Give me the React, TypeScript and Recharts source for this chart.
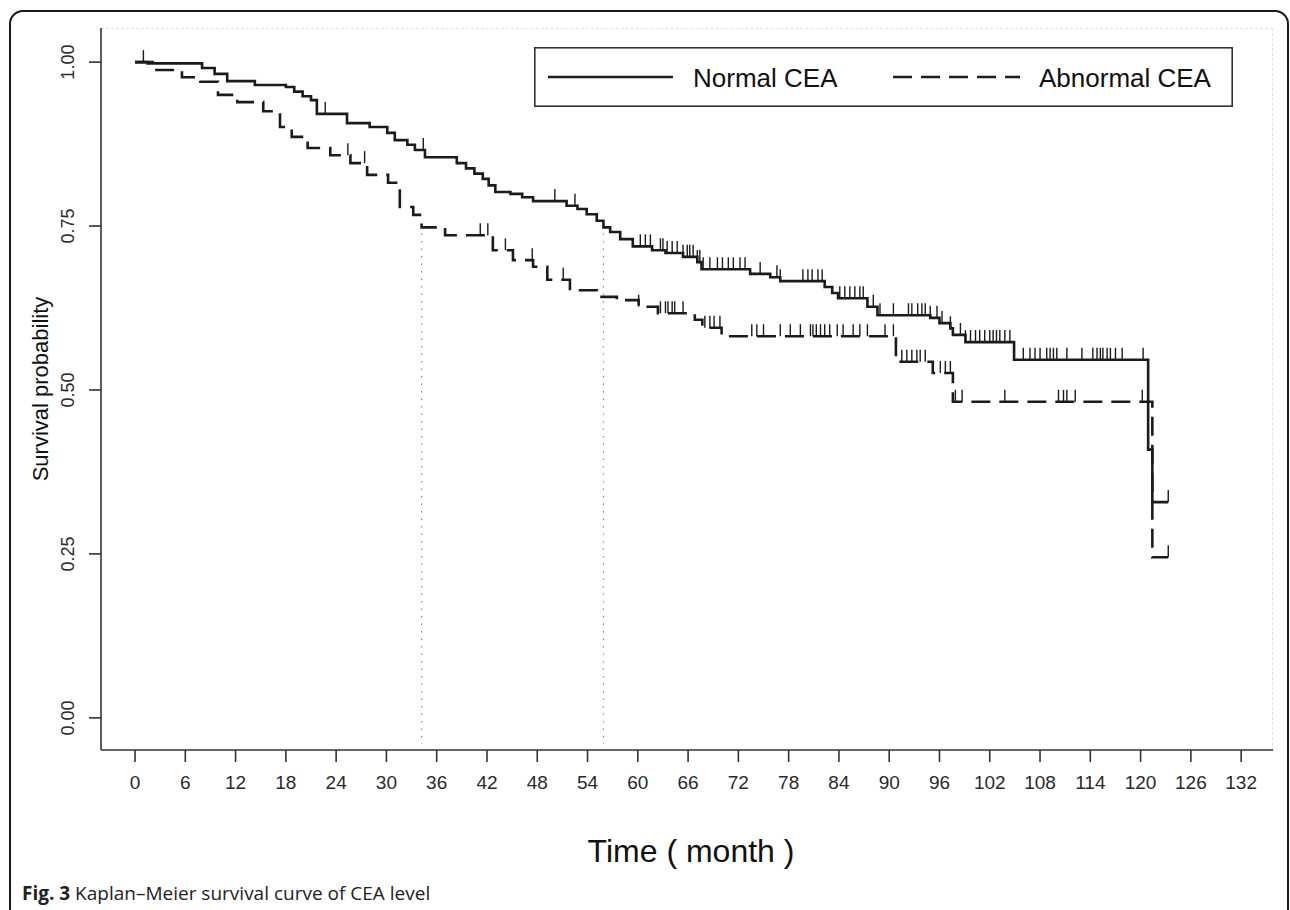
import React from 'react';
import {
  ComposedChart,
  Line,
  Scatter,
  XAxis,
  YAxis,
  ReferenceLine,
} from 'recharts';

// axis ticks
const xTicks = [0, 6, 12, 18, 24, 30, 36, 42, 48, 54, 60, 66, 72, 78, 84, 90, 96, 102, 108, 114, 120, 126, 132];
const yTicks = [0, 0.25, 0.5, 0.75, 1];

// Normal CEA: step times (month) and survival after each step
const normalTimes = [
  0, 1.5, 8.0, 9.5, 11.0, 14.3, 18.0, 19.0, 20.0, 21.0, 21.7, 25.3, 28.0, 30.1, 31.0, 32.5, 33.4, 34.6,
  38.4, 39.5, 40.5, 41.5, 42.2, 43.0, 44.8, 46.2, 47.5, 51.5, 52.8, 53.9, 55.1, 55.9, 56.7, 57.9, 59.4,
  61.7, 63.3, 65.4, 67.1, 67.6, 73.4, 75.8, 77.0, 82.3, 83.2, 83.9, 87.4, 88.6, 94.9, 96.0, 97.3, 97.6,
  99.1, 104.9, 120.9, 121.4, 123.3,
];
const normalSurv = [
  1.0, 0.998, 0.991, 0.982, 0.971, 0.965, 0.962, 0.955, 0.948, 0.942, 0.921, 0.907, 0.901, 0.892, 0.881, 0.874, 0.866, 0.855,
  0.846, 0.838, 0.83, 0.822, 0.812, 0.802, 0.799, 0.794, 0.788, 0.781, 0.776, 0.768, 0.758, 0.748, 0.741, 0.73, 0.719,
  0.713, 0.709, 0.703, 0.695, 0.684, 0.677, 0.672, 0.666, 0.657, 0.648, 0.64, 0.627, 0.614, 0.61, 0.602, 0.594, 0.584,
  0.573, 0.546, 0.409, 0.329, 0.329,
];
const normalCensorTimes = [
  22.7, 34.4, 50.1, 52.5, 60.3, 60.9, 61.5, 62.7, 63.0, 63.5, 64.1, 64.7, 65.4, 65.9, 66.2, 66.6, 67.1, 67.4,
  67.8, 68.6, 69.5, 70.1, 70.8, 71.4, 72.2, 72.8, 74.6, 76.6, 77.0, 79.7, 80.3, 80.8, 81.5, 82.0, 84.1, 84.7,
  85.3, 85.9, 86.5, 86.9, 88.1, 88.9, 90.5, 92.3, 92.7, 93.4, 93.9, 94.3, 94.9, 95.7, 96.3, 97.3, 98.5, 99.1,
  99.7, 100.3, 100.8, 101.4, 102.0, 102.4, 102.8, 103.2, 103.8, 104.4, 106.0, 106.8, 107.4, 108.0, 108.8,
  109.2, 109.6, 110.0, 111.2, 113.0, 114.3, 114.8, 115.2, 115.5, 116.0, 116.4, 117.0, 117.8, 120.3, 123.3,
];

// Abnormal CEA
const abnormalTimes = [
  0, 2.1, 5.6, 7.8, 9.9, 12.2, 15.3, 17.3, 18.7, 20.6, 23.3, 25.7, 27.7, 30.2, 31.6, 33.2, 34.2, 37.0,
  42.7, 45.1, 47.5, 49.2, 51.9, 55.1, 57.5, 60.1, 62.4, 66.8, 67.7, 70.0, 90.8, 95.2, 97.6, 121.4, 123.3,
];
const abnormalSurv = [
  1.0, 0.988, 0.977, 0.97, 0.95, 0.939, 0.925, 0.901, 0.886, 0.869, 0.858, 0.846, 0.828, 0.816, 0.779, 0.767, 0.748, 0.736,
  0.713, 0.698, 0.688, 0.668, 0.652, 0.642, 0.637, 0.627, 0.617, 0.607, 0.595, 0.582, 0.543, 0.526, 0.482, 0.245, 0.245,
];
const abnormalCensorTimes = [
  1.0, 25.4, 27.4, 41.2, 42.1, 44.2, 47.4, 51.1, 60.1, 62.7, 63.3, 63.6, 64.1, 64.4, 65.4, 68.0, 68.6, 69.1,
  69.8, 73.6, 74.2, 75.0, 77.0, 78.2, 79.4, 80.6, 80.9, 81.3, 81.8, 82.3, 82.9, 83.8, 84.5, 85.7, 86.5, 87.4,
  89.5, 90.5, 91.5, 92.1, 92.7, 93.3, 93.7, 94.3, 96.1, 96.7, 97.3, 97.9, 98.7, 103.8, 110.2, 110.8, 111.2,
  112.2, 120.2, 123.3,
];

// times where each curve reaches 75% survival
const quartileTimes = [34.2, 55.9];
const quartileLevel = 0.75;

const toSteps = (times: number[], surv: number[]) => times.map((t, i) => ({ t, s: surv[i] }));

const survAt = (times: number[], surv: number[], t: number) => {
  let s = surv[0];
  for (let i = 0; i < times.length; i++) {
    if (times[i] <= t) s = surv[i];
  }
  return s;
};

const toCensor = (censor: number[], times: number[], surv: number[]) =>
  censor.map((t) => ({ t, s: survAt(times, surv, t) }));

const normalData = toSteps(normalTimes, normalSurv);
const abnormalData = toSteps(abnormalTimes, abnormalSurv);
const normalCensor = toCensor(normalCensorTimes, normalTimes, normalSurv);
const abnormalCensor = toCensor(abnormalCensorTimes, abnormalTimes, abnormalSurv);

const FONT = '"Liberation Sans", Arial, sans-serif';
const INK = '#1b1b1b';

const CensorTick = (props: any) => {
  const { cx, cy } = props;
  if (cx == null || cy == null) return null;
  return <line x1={cx} x2={cx} y1={cy} y2={cy - 12} stroke={INK} strokeWidth={1.4} />;
};

const YTick = (props: any) => {
  const { x, y, payload } = props;
  return (
    <text
      x={x}
      y={y}
      transform={`rotate(-90 ${x} ${y})`}
      textAnchor="middle"
      fontSize={18}
      fontFamily={FONT}
      fill="#2a2a2a"
    >
      {Number(payload.value).toFixed(2)}
    </text>
  );
};

const App: React.FC = () => {
  return (
    <div
      style={{
        position: 'absolute',
        left: 0,
        top: 0,
        width: 1290,
        height: 910,
        overflow: 'hidden',
        background: '#fff',
      }}
    >
      {/* figure frame */}
      <div
        style={{
          position: 'absolute',
          left: 9,
          top: 10,
          width: 1280,
          height: 920,
          border: '2px solid #1a1a1a',
          borderRadius: 14,
          boxSizing: 'border-box',
        }}
      />
      {/* faint plot box top/right */}
      <div
        style={{
          position: 'absolute',
          left: 101,
          top: 28,
          width: 1172,
          height: 722,
          borderTop: '1px dashed #d6e6eb',
          borderRight: '1px dashed #d6e6eb',
          boxSizing: 'border-box',
        }}
      />
      <div style={{ position: 'absolute', left: 0, top: 0 }}>
        <ComposedChart width={1290} height={910} margin={{ top: 28, right: 17, bottom: 100, left: 40 }}>
          <XAxis
            dataKey="t"
            type="number"
            domain={[-4.06, 135.8]}
            ticks={xTicks}
            allowDataOverflow
            height={60}
            tickSize={12}
            tickMargin={14}
            interval={0}
            stroke="#333"
            axisLine={{ stroke: '#333', strokeWidth: 1.6 }}
            tickLine={{ stroke: '#333', strokeWidth: 1.6 }}
            tick={{ fontSize: 19, fill: '#2a2a2a', fontFamily: FONT }}
            label={{
              content: (p: any) => {
                const vb = p.viewBox || {};
                return (
                  <text
                    x={vb.x + vb.width / 2 + 4}
                    y={vb.y + vb.height + 52}
                    textAnchor="middle"
                    fontSize={32}
                    fontFamily={FONT}
                    fill="#111"
                  >
                    Time ( month )
                  </text>
                );
              },
            }}
          />
          <YAxis
            type="number"
            domain={[-0.049, 1.052]}
            ticks={yTicks}
            allowDataOverflow
            width={61}
            tickSize={12}
            tickMargin={15}
            interval={0}
            axisLine={{ stroke: '#333', strokeWidth: 1.6 }}
            tickLine={{ stroke: '#333', strokeWidth: 1.6 }}
            tick={<YTick />}
            label={{
              content: (p: any) => {
                const vb = p.viewBox || {};
                const cx = vb.x + 8;
                const cy = vb.y + vb.height / 2;
                return (
                  <text
                    x={cx}
                    y={cy}
                    transform={`rotate(-90 ${cx} ${cy})`}
                    textAnchor="middle"
                    fontSize={22}
                    fontFamily={FONT}
                    fill="#111"
                  >
                    Survival probability
                  </text>
                );
              },
            }}
          />
          {quartileTimes.map((t) => (
            <ReferenceLine
              key={t}
              segment={[
                { x: t, y: quartileLevel },
                { x: t, y: -0.04 },
              ]}
              stroke="#8a8a8a"
              strokeWidth={1.2}
              strokeDasharray="1.5 6"
            />
          ))}
          <Line
            data={normalData}
            dataKey="s"
            type="stepAfter"
            stroke={INK}
            strokeWidth={2.6}
            dot={false}
            activeDot={false}
            isAnimationActive={false}
          />
          <Line
            data={abnormalData}
            dataKey="s"
            type="stepAfter"
            stroke={INK}
            strokeWidth={2.6}
            strokeDasharray="19 9"
            dot={false}
            activeDot={false}
            isAnimationActive={false}
          />
          <Scatter data={normalCensor} dataKey="s" shape={<CensorTick />} isAnimationActive={false} />
          <Scatter data={abnormalCensor} dataKey="s" shape={<CensorTick />} isAnimationActive={false} />
        </ComposedChart>
      </div>
      {/* legend */}
      <svg
        width={699}
        height={60}
        style={{ position: 'absolute', left: 534, top: 47 }}
      >
        <rect x={0.8} y={0.8} width={697.4} height={58.4} fill="#fff" stroke="#333" strokeWidth={1.6} />
        <line x1={14} x2={139} y1={30} y2={30} stroke={INK} strokeWidth={2.6} />
        <text x={159} y={40} fontSize={26} fontFamily={FONT} fill="#111">
          Normal CEA
        </text>
        <line x1={359} x2={486} y1={30} y2={30} stroke={INK} strokeWidth={2.6} strokeDasharray="19 9" />
        <text x={505} y={40} fontSize={26} fontFamily={FONT} fill="#111">
          Abnormal CEA
        </text>
      </svg>
      {/* caption */}
      <div
        style={{
          position: 'absolute',
          left: 22,
          top: 880,
          fontFamily: '"Open Sans", "Noto Sans", sans-serif',
          fontSize: 19,
          lineHeight: '26px',
          color: '#222',
          whiteSpace: 'nowrap',
        }}
      >
        <b>Fig. 3</b> Kaplan–Meier survival curve of CEA level
      </div>
    </div>
  );
};

export default App;
